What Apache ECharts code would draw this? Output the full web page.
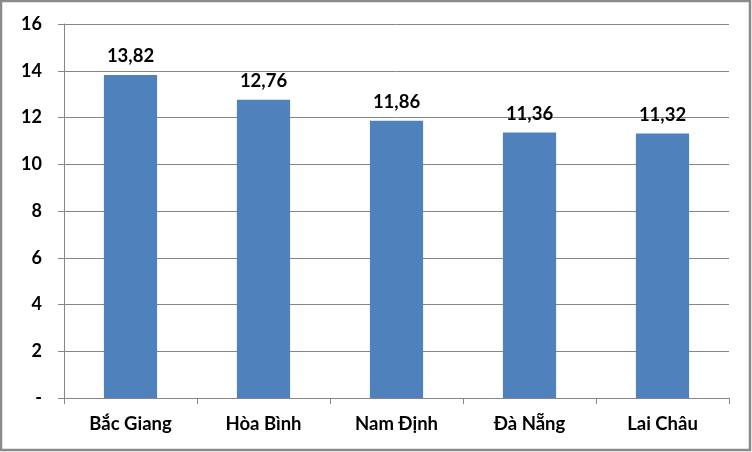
<!DOCTYPE html>
<html>
<head>
<meta charset="utf-8">
<script src="https://cdn.jsdelivr.net/npm/echarts@6/dist/echarts.min.js"></script>
<style>
  html, body { margin: 0; padding: 0; background: #fff; }
  #chart { width: 752px; height: 452px; }
</style>
</head>
<body>
<div id="chart"></div>
<script>
var provinces = ['Bắc Giang', 'Hòa Bình', 'Nam Định', 'Đà Nẵng', 'Lai Châu'];
var values = [13.82, 12.76, 11.86, 11.36, 11.32];

var chart = echarts.init(document.getElementById('chart'));

var font = 'Lato, "Open Sans", sans-serif';

var option = {
    animation: false,
    grid: { left: 64, right: 23, top: 24, bottom: 54 },
    graphic: [{
        type: 'rect',
        shape: { x: 1, y: 1, width: 749, height: 449 },
        style: { fill: 'none', stroke: '#8a8a8a', lineWidth: 2.5 },
        silent: true
    }],
    xAxis: {
        type: 'category',
        data: provinces,
        axisLine: { lineStyle: { color: '#868686', width: 1 } },
        axisTick: { show: true, length: 6, lineStyle: { color: '#868686' } },
        axisLabel: {
            color: '#000', fontFamily: font, fontWeight: 'bold', fontSize: 18.5, margin: 17
        }
    },
    yAxis: {
        type: 'value',
        min: 0,
        max: 16,
        interval: 2,
        axisLine: { show: true, lineStyle: { color: '#868686', width: 1 } },
        axisTick: { show: true, length: 6, lineStyle: { color: '#868686' } },
        splitLine: { lineStyle: { color: '#868686', width: 1 } },
        axisLabel: {
            color: '#000', fontFamily: font, fontWeight: 'bold', fontSize: 18, margin: 22,
            formatter: function (v) { return v === 0 ? '-' : String(v); }
        }
    },
    series: [{
        type: 'bar',
        data: values,
        barWidth: '40%',
        itemStyle: { color: '#4f81bd' },
        label: {
            show: true,
            position: 'top',
            distance: 9,
            color: '#000',
            fontFamily: font,
            fontWeight: 'bold',
            fontSize: 18.5,
            formatter: function (p) { return p.value.toFixed(2).replace('.', ','); }
        }
    }]
};

chart.setOption(option);

window.onresize = chart.resize;
</script>
</body>
</html>
